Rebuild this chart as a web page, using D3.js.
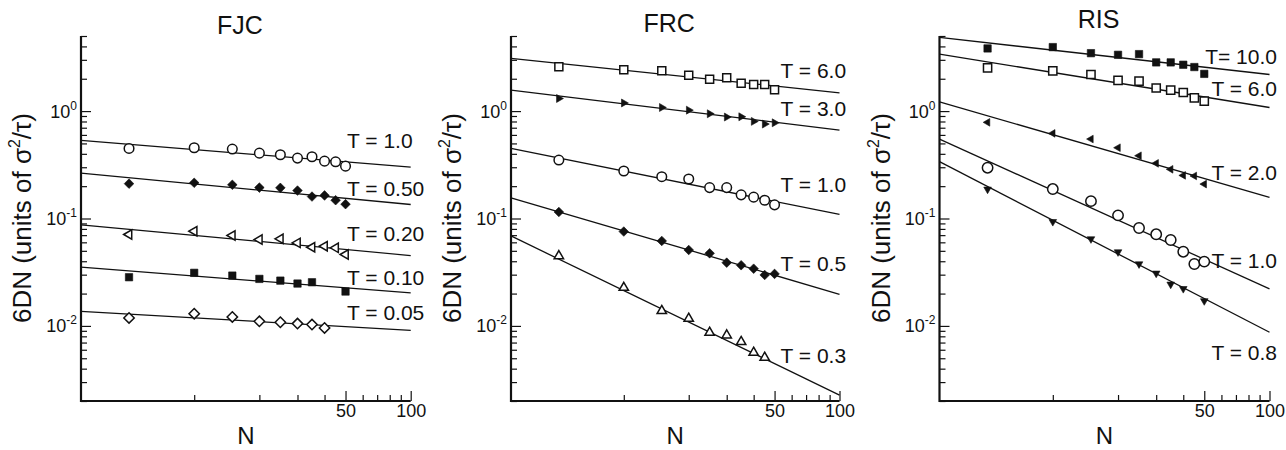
<!DOCTYPE html>
<html>
<head>
<meta charset="utf-8">
<script src="https://cdn.jsdelivr.net/npm/d3@7"></script>
<style>
  html, body { margin: 0; padding: 0; background: #fff; }
  svg { display: block; }
  text { font-family: "Liberation Sans", Arial, Helvetica, sans-serif; fill: #111; }
</style>
</head>
<body>
<svg id="chart" width="1286" height="450"></svg>
<script>
// ---------------- DATA ----------------
const panelTitles = ["FJC", "FRC", "RIS"];
const chainLengths = [5, 10, 15, 20, 25, 30, 35, 40, 45, 50];
const xTickMinor = [10, 20, 30, 40, 60, 70, 80, 90];
const xTickMajor = [50, 100];
const yTickMajor = [1, 0.1, 0.01];
const yTickMajorExp = ["0", "-1", "-2"];
const yTickMinor = [0.002,0.003,0.004,0.005,0.006,0.007,0.008,0.009,
                    0.02,0.03,0.04,0.05,0.06,0.07,0.08,0.09,
                    0.2,0.3,0.4,0.5,0.6,0.7,0.8,0.9, 2,3,4,5];
const fitRange = [3, 100];

// FJC
const fjcLabels = ["T = 1.0", "T = 0.50", "T = 0.20", "T = 0.10", "T = 0.05"];
const fjcValues = [
  [0.449,0.456,0.443,0.406,0.392,0.365,0.376,0.342,0.337,0.307],
  [0.211,0.215,0.206,0.194,0.193,0.182,0.160,0.164,0.148,0.136],
  [0.0710,0.0762,0.0695,0.0637,0.0647,0.0593,0.0540,0.0552,0.0533,0.0462],
  [0.0284,0.0312,0.0294,0.0274,0.0264,0.0248,0.0255,null,null,0.0209],
  [0.01187,0.0130,0.01213,0.01104,0.01081,0.01051,0.01029,0.00958,null,null]
];
const fjcFitStart = [0.533, 0.264, 0.0873, 0.0352, 0.01368];
const fjcFitEnd   = [0.301, 0.135, 0.0452, 0.0203, 0.0091];

// FRC
const frcLabels = ["T = 6.0", "T = 3.0", "T = 1.0", "T = 0.5", "T = 0.3"];
const frcValues = [
  [2.58,2.42,2.37,2.16,1.98,2.04,1.82,1.77,1.77,1.58],
  [1.31,1.19,1.08,1.02,0.944,0.880,0.885,0.802,0.757,0.778],
  [0.350,0.277,0.245,0.233,0.194,0.194,0.166,0.158,0.148,0.134],
  [0.115,0.0756,0.0618,0.0509,0.0474,0.0388,0.0367,0.0341,0.0298,0.0305],
  [0.0448,0.0227,0.0138,0.0117,0.00867,0.00819,0.00710,0.00565,0.00507,null]
];
const frcFitStart = [3.09, 1.57, 0.450, 0.156, 0.0688];
const frcFitEnd   = [1.48, 0.666, 0.109, 0.0197, 0.00227];

// RIS
const risLabels = ["T= 10.0", "T = 6.0", "T = 2.0", "T = 1.0", "T = 0.8"];
const risValues = [
  [3.83,3.94,3.46,3.34,3.39,2.84,2.84,2.70,2.57,2.22],
  [2.53,2.37,2.19,1.93,1.90,1.64,1.57,1.49,1.33,1.24],
  [0.785,0.620,0.549,0.456,0.384,0.326,0.287,0.252,0.249,0.209],
  [0.297,0.188,0.145,0.107,0.0816,0.0713,0.0631,0.0491,0.0377,0.0397],
  [0.187,0.0934,0.0645,0.0488,0.0377,0.0309,0.0244,0.0222,null,0.0171]
];
const risFitStart = [4.85, 3.39, 1.22, 0.549, 0.338];
const risFitEnd   = [2.19, 1.08, 0.157, 0.0221, 0.00873];

// ---------------- LAYOUT / STYLE ----------------
const plotTop = 36, plotBottom = 401;
const layouts = [
  { left: 81,  right: 410.7, titleY: 33.5, labelAnchor: "start", labelX: 347,
    labelY: [140.7, 188.3, 233.3, 277.3, 312.7],
    markers: [["circle",false,4.8],["diamond",true,4.8],["triL",false,5.4],["square",true,3.7],["diamond",false,5.2]] },
  { left: 511, right: 839.5, titleY: 32, labelAnchor: "start", labelX: 780.5,
    labelY: [70.7, 108.3, 184, 263.3, 355],
    markers: [["square",false,4],["triR",true,4.6],["circle",false,4.8],["diamond",true,4.8],["triU",false,5.4]] },
  { left: 939.5, right: 1269.5, titleY: 27.5, labelAnchor: "end", labelX: 1277,
    labelY: [56.7, 88.3, 172.3, 260, 352.3],
    markers: [["square",true,3.7],["square",false,4.1],["triL",true,4.4],["circle",false,5.2],["triD",true,4.4]] }
];
const panelData = [
  { labels: fjcLabels, values: fjcValues, fitStart: fjcFitStart, fitEnd: fjcFitEnd },
  { labels: frcLabels, values: frcValues, fitStart: frcFitStart, fitEnd: frcFitEnd },
  { labels: risLabels, values: risValues, fitStart: risFitStart, fitEnd: risFitEnd }
];

function markerPath(type, s) {
  if (type === "square") return `M${-s},${-s}H${s}V${s}H${-s}Z`;
  if (type === "diamond") return `M0,${-s}L${s},0L0,${s}L${-s},0Z`;
  const rot = { triU: 0, triR: 90, triD: 180, triL: 270 }[type];
  const pts = [[0,-s],[s*0.866,s*0.5],[-s*0.866,s*0.5]].map(([x,y]) => {
    const a = rot * Math.PI / 180;
    return [x*Math.cos(a) - y*Math.sin(a), x*Math.sin(a) + y*Math.cos(a)];
  });
  return "M" + pts.map(p => p[0].toFixed(2) + "," + p[1].toFixed(2)).join("L") + "Z";
}

const svg = d3.select("#chart");
const y = d3.scaleLog().domain([0.002, 5]).range([plotBottom, plotTop]);

panelData.forEach((pd, pi) => {
  const L = layouts[pi];
  const x = d3.scaleLog().domain(fitRange).range([L.left, L.right]);
  const g = svg.append("g");

  // title
  g.append("text").attr("x", (L.left + L.right) / 2 - 6).attr("y", L.titleY)
    .attr("text-anchor", "middle").style("font-size", "25px").text(panelTitles[pi]);

  // fit lines
  pd.fitStart.forEach((v0, i) => {
    g.append("line")
      .attr("x1", x(fitRange[0])).attr("y1", y(v0))
      .attr("x2", x(fitRange[1])).attr("y2", y(pd.fitEnd[i]))
      .attr("stroke", "#111").attr("stroke-width", 1.3);
  });

  // markers
  pd.values.forEach((series, si) => {
    const [type, filled, size] = L.markers[si];
    const pts = chainLengths.map((n, k) => ({ n, v: series[k] })).filter(d => d.v != null);
    const sel = g.append("g").selectAll(".m").data(pts).enter();
    if (type === "circle") {
      sel.append("circle").attr("cx", d => x(d.n)).attr("cy", d => y(d.v)).attr("r", size)
        .attr("fill", filled ? "#111" : "#fff").attr("stroke", "#111").attr("stroke-width", 1.5);
    } else {
      sel.append("path").attr("d", markerPath(type, size))
        .attr("transform", d => `translate(${x(d.n)},${y(d.v)})`)
        .attr("fill", filled ? "#111" : "#fff").attr("stroke", "#111")
        .attr("stroke-width", filled ? 0.6 : 1.5).attr("stroke-linejoin", "miter");
    }
  });

  // series labels
  pd.labels.forEach((t, i) => {
    g.append("text").attr("x", L.labelX).attr("y", L.labelY[i] + 7.6)
      .attr("text-anchor", L.labelAnchor).style("font-size", "21px").text(t);
  });

  // x axis
  const xMinor = d3.axisBottom(x).tickValues(xTickMinor).tickSize(-6).tickSizeOuter(0).tickFormat("");
  const xMajor = d3.axisBottom(x).tickValues(xTickMajor).tickSize(-10).tickSizeOuter(0)
    .tickPadding(3).tickFormat(d3.format("d"));
  const gxm = g.append("g").attr("transform", `translate(0,${plotBottom})`).call(xMinor);
  const gxM = g.append("g").attr("transform", `translate(0,${plotBottom})`).call(xMajor);
  [gxm, gxM].forEach(a => {
    a.select(".domain").remove();
    a.selectAll(".tick line").attr("stroke", "#111").attr("stroke-width", 1.2);
  });
  gxM.selectAll(".tick text").style("font-size", "18px").attr("fill", "#111")
    .style("font-family", "Liberation Sans, Arial, sans-serif");

  // y axis
  const yMinor = d3.axisLeft(y).tickValues(yTickMinor).tickSize(-6).tickSizeOuter(0).tickFormat("");
  const yMajor = d3.axisLeft(y).tickValues(yTickMajor).tickSize(-10).tickSizeOuter(0).tickFormat("");
  const gym = g.append("g").attr("transform", `translate(${L.left},0)`).call(yMinor);
  const gyM = g.append("g").attr("transform", `translate(${L.left},0)`).call(yMajor);
  [gym, gyM].forEach(a => {
    a.select(".domain").remove();
    a.selectAll(".tick line").attr("stroke", "#111").attr("stroke-width", 1.2);
  });
  yTickMajor.forEach((v, i) => {
    const t = g.append("text").attr("x", L.left - 4).attr("y", y(v) + 6.5)
      .attr("text-anchor", "end").style("font-size", "18px");
    t.append("tspan").text("10");
    t.append("tspan").attr("dy", -8).style("font-size", "12px").text(yTickMajorExp[i]);
  });

  // axis lines
  g.append("path")
    .attr("d", `M${L.left},${plotTop}V${plotBottom}H${x(fitRange[1])}`)
    .attr("fill", "none").attr("stroke", "#111").attr("stroke-width", 2.2);

  // axis titles
  g.append("text").attr("x", (L.left + L.right) / 2).attr("y", 444)
    .attr("text-anchor", "middle").style("font-size", "24px").text("N");
  const yl = g.append("text")
    .attr("transform", `translate(${L.left - 50},${218}) rotate(-90)`)
    .attr("text-anchor", "middle").style("font-size", "26px");
  yl.append("tspan").text("6DN (units of σ");
  yl.append("tspan").attr("dy", -11).style("font-size", "16px").text("2");
  yl.append("tspan").attr("dy", 11).text("/τ)");
});
</script>
</body>
</html>
